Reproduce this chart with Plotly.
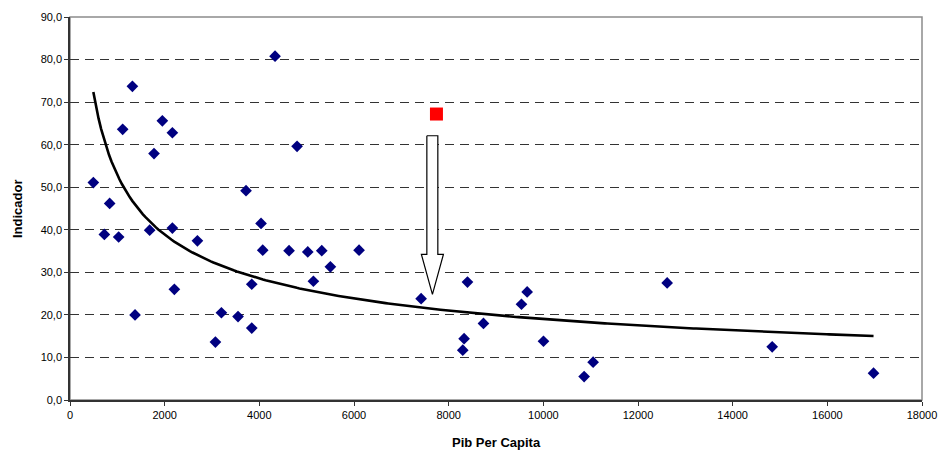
import numpy as np
import plotly.graph_objects as go

# Blue observations (Pib per capita, Indicador)
pib = [493, 726, 838, 1028, 1113, 1318, 1374, 1683, 1775, 1951, 2163, 2163, 2205,
       2692, 3072, 3199, 3550, 3719, 3840, 3840, 4036, 4072, 4332, 4628, 4797,
       5023, 5142, 5319, 5501, 6107, 7418, 8298, 8326, 8397, 8735, 9538, 9658,
       10003, 10862, 11052, 12616, 14835, 16976]
indicador = [51.1, 38.9, 46.2, 38.3, 63.6, 73.7, 20.0, 39.9, 57.9, 65.6, 62.8, 40.4, 26.0,
             37.4, 13.6, 20.5, 19.6, 49.2, 27.2, 16.9, 41.5, 35.2, 80.8, 35.1, 59.6,
             34.8, 27.9, 35.1, 31.3, 35.2, 23.8, 11.7, 14.4, 27.7, 18.0, 22.5, 25.4,
             13.8, 5.5, 8.9, 27.5, 12.5, 6.3]

# Highlighted observation
red_x = [7742]
red_y = [67.2]

# Arrow outline (data coordinates)
arrow_x = [7539, 7771, 7771, 7889, 7657, 7424, 7539, 7539]
arrow_y = [62.1, 62.1, 34.2, 34.2, 24.8, 34.2, 34.2, 62.1]

x_ticks = [0, 2000, 4000, 6000, 8000, 10000, 12000, 14000, 16000, 18000]
y_ticks = [0, 10, 20, 30, 40, 50, 60, 70, 80, 90]
y_labels = ["0,0", "10,0", "20,0", "30,0", "40,0", "50,0", "60,0", "70,0", "80,0", "90,0"]

# Power trend line fitted from all observations (least squares in log-log)
all_x = np.array(pib + red_x, dtype=float)
all_y = np.array(indicador + red_y, dtype=float)
b, ln_a = np.polyfit(np.log(all_x), np.log(all_y), 1)
tx = np.linspace(min(pib), max(pib), 300)
ty = np.exp(ln_a) * tx ** b

FONT = "Arial, 'Liberation Sans', sans-serif"

fig = go.Figure()
fig.add_trace(go.Scatter(x=pib, y=indicador, mode="markers",
                         marker=dict(symbol="diamond", color="#000080", size=9,
                                     line=dict(width=0)),
                         showlegend=False, hoverinfo="skip"))
fig.add_trace(go.Scatter(x=tx, y=ty, mode="lines",
                         line=dict(color="black", width=2.6),
                         showlegend=False, hoverinfo="skip"))
fig.add_trace(go.Scatter(x=red_x, y=red_y, mode="markers",
                         marker=dict(symbol="square", color="#FF0000", size=13,
                                     line=dict(width=0)),
                         showlegend=False, hoverinfo="skip"))
fig.add_trace(go.Scatter(x=arrow_x, y=arrow_y, mode="lines", fill="toself",
                         fillcolor="white", line=dict(color="black", width=1.2),
                         showlegend=False, hoverinfo="skip"))

# plot area border (top/right in grey)
fig.add_shape(type="rect", xref="paper", yref="paper", x0=0, y0=0, x1=1, y1=1,
              line=dict(color="#8c8c8c", width=1.5), layer="below")

# axis titles
fig.add_annotation(text="<b>Pib Per Capita</b>", xref="paper", yref="paper",
                   x=0.5, y=-0.1115, xanchor="center", yanchor="middle",
                   showarrow=False, font=dict(family=FONT, size=13, color="black"))
fig.add_annotation(text="<b>Indicador</b>", xref="paper", yref="paper",
                   x=-0.0616, y=0.5, xanchor="center", yanchor="middle", textangle=-90,
                   showarrow=False, font=dict(family=FONT, size=13, color="black"))

fig.update_layout(
    width=940, height=452,
    margin=dict(l=70, r=18, t=17, b=52),
    paper_bgcolor="white", plot_bgcolor="white",
    font=dict(family=FONT, size=11, color="black"),
    xaxis=dict(range=[0, 18000], tickvals=x_ticks, ticktext=[str(v) for v in x_ticks],
               automargin=False,
               showgrid=False, zeroline=False,
               showline=True, linecolor="#333333", linewidth=1.5,
               ticks="outside", ticklen=4, tickcolor="#333333",
               tickfont=dict(family=FONT, size=11)),
    yaxis=dict(range=[0, 90], tickvals=y_ticks, ticktext=y_labels,
               automargin=False,
               showgrid=True, gridcolor="#333333", gridwidth=1, griddash="9px,6px",
               zeroline=False,
               showline=True, linecolor="#333333", linewidth=1.5,
               ticks="outside", ticklen=4, tickcolor="#333333",
               tickfont=dict(family=FONT, size=11)),
)

fig.write_html("out.html")
